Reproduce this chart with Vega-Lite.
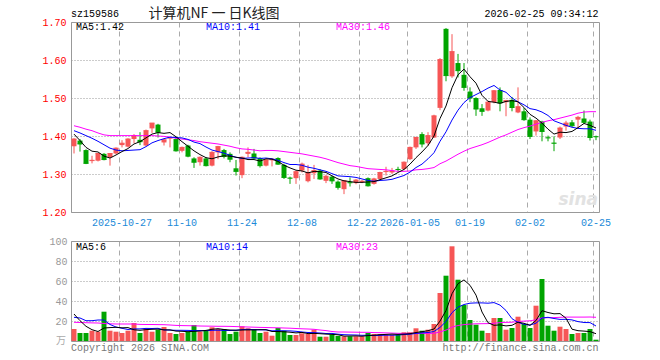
{
"$schema": "https://vega.github.io/schema/vega-lite/v6.json",
"background": "white",
"padding": {"left": 41, "top": 6, "right": 0, "bottom": 0},
"datasets": {"k": [
{"d":"2025-10-15","o":1.373,"h":1.394,"l":1.354,"c":1.392,"v":12,"m5":1.405,"m10":1.414,"m30":1.427,"v5":27,"v10":23.7,"v30":18.7},
{"d":"2025-10-16","o":1.388,"h":1.392,"l":1.359,"c":1.379,"v":8,"m5":1.388,"m10":1.408,"m30":1.423,"v5":20.3,"v10":23,"v30":18.5},
{"d":"2025-10-17","o":1.363,"h":1.365,"l":1.326,"c":1.328,"v":8,"m5":1.370,"m10":1.401,"m30":1.418,"v5":14.7,"v10":20.3,"v30":18.3},
{"d":"2025-10-20","o":1.334,"h":1.348,"l":1.328,"c":1.336,"v":10.3,"m5":1.360,"m10":1.394,"m30":1.414,"v5":11.3,"v10":20.3,"v30":18.1},
{"d":"2025-10-21","o":1.335,"h":1.355,"l":1.333,"c":1.354,"v":9.3,"m5":1.358,"m10":1.386,"m30":1.408,"v5":9.5,"v10":21,"v30":18.0},
{"d":"2025-10-22","o":1.353,"h":1.355,"l":1.336,"c":1.338,"v":29.3,"m5":1.347,"m10":1.377,"m30":1.403,"v5":13.0,"v10":21,"v30":17.5},
{"d":"2025-10-23","o":1.344,"h":1.355,"l":1.322,"c":1.354,"v":10.3,"m5":1.342,"m10":1.368,"m30":1.401,"v5":13.4,"v10":16.5,"v30":17.2},
{"d":"2025-10-24","o":1.354,"h":1.370,"l":1.352,"c":1.368,"v":9.3,"m5":1.350,"m10":1.363,"m30":1.401,"v5":13.7,"v10":14,"v30":17.0},
{"d":"2025-10-27","o":1.376,"h":1.389,"l":1.370,"c":1.381,"v":8,"m5":1.359,"m10":1.361,"m30":1.401,"v5":13.2,"v10":12.7,"v30":17.0},
{"d":"2025-10-28","o":1.372,"h":1.394,"l":1.370,"c":1.392,"v":10.3,"m5":1.367,"m10":1.362,"m30":1.401,"v5":13.4,"v10":11.5,"v30":17.0},
{"d":"2025-10-29","o":1.392,"h":1.405,"l":1.381,"c":1.401,"v":18,"m5":1.379,"m10":1.363,"m30":1.401,"v5":11.2,"v10":12.1,"v30":17.0},
{"d":"2025-10-30","o":1.390,"h":1.410,"l":1.376,"c":1.385,"v":8,"m5":1.385,"m10":1.364,"m30":1.401,"v5":10.7,"v10":12.1,"v30":16.6},
{"d":"2025-10-31","o":1.375,"h":1.417,"l":1.373,"c":1.414,"v":12.7,"m5":1.395,"m10":1.372,"m30":1.401,"v5":11.4,"v10":12.6,"v30":16.5},
{"d":"2025-11-03","o":1.420,"h":1.434,"l":1.408,"c":1.434,"v":9.3,"m5":1.405,"m10":1.382,"m30":1.401,"v5":11.7,"v10":12.5,"v30":16.5},
{"d":"2025-11-04","o":1.430,"h":1.432,"l":1.396,"c":1.410,"v":11.3,"m5":1.409,"m10":1.388,"m30":1.400,"v5":11.9,"v10":12.7,"v30":16.4},
{"d":"2025-11-05","o":1.383,"h":1.392,"l":1.375,"c":1.390,"v":14,"m5":1.407,"m10":1.393,"m30":1.399,"v5":11.1,"v10":11.1,"v30":16.3},
{"d":"2025-11-06","o":1.393,"h":1.397,"l":1.370,"c":1.396,"v":8,"m5":1.409,"m10":1.397,"m30":1.397,"v5":11.1,"v10":10.9,"v30":16.0},
{"d":"2025-11-07","o":1.392,"h":1.396,"l":1.359,"c":1.361,"v":7,"m5":1.398,"m10":1.396,"m30":1.394,"v5":9.9,"v10":10.7,"v30":15.6},
{"d":"2025-11-10","o":1.361,"h":1.372,"l":1.357,"c":1.370,"v":8,"m5":1.385,"m10":1.395,"m30":1.392,"v5":9.7,"v10":10.7,"v30":15.4},
{"d":"2025-11-11","o":1.375,"h":1.377,"l":1.344,"c":1.347,"v":9.3,"m5":1.373,"m10":1.391,"m30":1.390,"v5":9.3,"v10":10.6,"v30":15.3},
{"d":"2025-11-12","o":1.341,"h":1.344,"l":1.316,"c":1.331,"v":16,"m5":1.361,"m10":1.384,"m30":1.388,"v5":9.7,"v10":10.4,"v30":15.2},
{"d":"2025-11-13","o":1.331,"h":1.346,"l":1.322,"c":1.344,"v":9.3,"m5":1.351,"m10":1.380,"m30":1.385,"v5":9.9,"v10":10.5,"v30":15.0},
{"d":"2025-11-14","o":1.341,"h":1.344,"l":1.320,"c":1.322,"v":10.3,"m5":1.343,"m10":1.371,"m30":1.383,"v5":10.6,"v10":10.3,"v30":14.9},
{"d":"2025-11-17","o":1.322,"h":1.360,"l":1.320,"c":1.357,"v":13.7,"m5":1.340,"m10":1.363,"m30":1.381,"v5":11.7,"v10":10.7,"v30":14.8},
{"d":"2025-11-18","o":1.357,"h":1.374,"l":1.339,"c":1.372,"v":12,"m5":1.345,"m10":1.359,"m30":1.379,"v5":12.3,"v10":10.8,"v30":14.7},
{"d":"2025-11-19","o":1.363,"h":1.366,"l":1.341,"c":1.346,"v":12,"m5":1.348,"m10":1.355,"m30":1.376,"v5":11.5,"v10":10.6,"v30":14.7},
{"d":"2025-11-20","o":1.353,"h":1.357,"l":1.331,"c":1.339,"v":7,"m5":1.347,"m10":1.349,"m30":1.373,"v5":11.0,"v10":10.5,"v30":14.6},
{"d":"2025-11-21","o":1.315,"h":1.337,"l":1.296,"c":1.307,"v":9.3,"m5":1.344,"m10":1.344,"m30":1.369,"v5":10.8,"v10":10.7,"v30":14.4},
{"d":"2025-11-24","o":1.297,"h":1.346,"l":1.289,"c":1.344,"v":14.7,"m5":1.342,"m10":1.341,"m30":1.366,"v5":11.0,"v10":11.4,"v30":14.2},
{"d":"2025-11-25","o":1.353,"h":1.370,"l":1.344,"c":1.357,"v":12.7,"m5":1.338,"m10":1.342,"m30":1.365,"v5":11.1,"v10":11.7,"v30":14.0},
{"d":"2025-11-26","o":1.354,"h":1.366,"l":1.339,"c":1.342,"v":12,"m5":1.338,"m10":1.343,"m30":1.363,"v5":11.1,"v10":11.3,"v30":13.8},
{"d":"2025-11-27","o":1.342,"h":1.344,"l":1.317,"c":1.322,"v":8,"m5":1.334,"m10":1.341,"m30":1.361,"v5":11.3,"v10":11.2,"v30":13.6},
{"d":"2025-11-28","o":1.322,"h":1.339,"l":1.320,"c":1.337,"v":9.3,"m5":1.340,"m10":1.342,"m30":1.362,"v5":11.3,"v10":11.1,"v30":13.5},
{"d":"2025-12-01","o":1.336,"h":1.342,"l":1.320,"c":1.339,"v":5.3,"m5":1.339,"m10":1.340,"m30":1.362,"v5":9.5,"v10":10.2,"v30":13.3},
{"d":"2025-12-02","o":1.342,"h":1.344,"l":1.324,"c":1.326,"v":13,"m5":1.333,"m10":1.336,"m30":1.361,"v5":9.5,"v10":10.3,"v30":13.2},
{"d":"2025-12-03","o":1.324,"h":1.327,"l":1.287,"c":1.291,"v":10.3,"m5":1.323,"m10":1.330,"m30":1.359,"v5":9.2,"v10":10.2,"v30":13.0},
{"d":"2025-12-04","o":1.290,"h":1.293,"l":1.274,"c":1.289,"v":6,"m5":1.316,"m10":1.325,"m30":1.357,"v5":8.8,"v10":10.1,"v30":12.8},
{"d":"2025-12-05","o":1.289,"h":1.309,"l":1.274,"c":1.306,"v":6,"m5":1.310,"m10":1.325,"m30":1.355,"v5":8.1,"v10":9.7,"v30":12.5},
{"d":"2025-12-08","o":1.309,"h":1.330,"l":1.304,"c":1.326,"v":7.7,"m5":1.308,"m10":1.323,"m30":1.353,"v5":8.6,"v10":9.0,"v30":12.2},
{"d":"2025-12-09","o":1.281,"h":1.324,"l":1.278,"c":1.304,"v":7,"m5":1.303,"m10":1.318,"m30":1.350,"v5":7.4,"v10":8.5,"v30":12.0},
{"d":"2025-12-10","o":1.302,"h":1.324,"l":1.287,"c":1.309,"v":11.3,"m5":1.307,"m10":1.315,"m30":1.347,"v5":7.6,"v10":8.4,"v30":11.7},
{"d":"2025-12-11","o":1.309,"h":1.313,"l":1.285,"c":1.287,"v":4.3,"m5":1.306,"m10":1.311,"m30":1.344,"v5":7.3,"v10":8.0,"v30":11.0},
{"d":"2025-12-12","o":1.282,"h":1.298,"l":1.276,"c":1.294,"v":4.3,"m5":1.304,"m10":1.307,"m30":1.340,"v5":6.9,"v10":7.5,"v30":10.4},
{"d":"2025-12-15","o":1.293,"h":1.296,"l":1.274,"c":1.282,"v":6.3,"m5":1.295,"m10":1.301,"m30":1.335,"v5":6.6,"v10":7.6,"v30":9.5},
{"d":"2025-12-16","o":1.280,"h":1.283,"l":1.259,"c":1.265,"v":5,"m5":1.287,"m10":1.295,"m30":1.330,"v5":6.2,"v10":6.8,"v30":9.0},
{"d":"2025-12-17","o":1.260,"h":1.284,"l":1.247,"c":1.282,"v":4.7,"m5":1.282,"m10":1.294,"m30":1.326,"v5":4.9,"v10":6.3,"v30":9.0},
{"d":"2025-12-18","o":1.278,"h":1.291,"l":1.267,"c":1.277,"v":4.7,"m5":1.280,"m10":1.293,"m30":1.322,"v5":5.0,"v10":6.1,"v30":8.9},
{"d":"2025-12-19","o":1.276,"h":1.287,"l":1.273,"c":1.284,"v":4.7,"m5":1.278,"m10":1.291,"m30":1.320,"v5":5.1,"v10":6.0,"v30":8.8},
{"d":"2025-12-22","o":1.279,"h":1.284,"l":1.276,"c":1.281,"v":4.7,"m5":1.278,"m10":1.287,"m30":1.317,"v5":4.8,"v10":5.7,"v30":8.7},
{"d":"2025-12-23","o":1.289,"h":1.291,"l":1.267,"c":1.269,"v":8,"m5":1.279,"m10":1.283,"m30":1.314,"v5":5.4,"v10":5.8,"v30":8.7},
{"d":"2025-12-24","o":1.274,"h":1.290,"l":1.272,"c":1.287,"v":7,"m5":1.280,"m10":1.281,"m30":1.313,"v5":5.8,"v10":5.4,"v30":8.4},
{"d":"2025-12-25","o":1.287,"h":1.306,"l":1.285,"c":1.304,"v":7,"m5":1.285,"m10":1.283,"m30":1.312,"v5":6.3,"v10":5.6,"v30":8.3},
{"d":"2025-12-26","o":1.305,"h":1.319,"l":1.296,"c":1.307,"v":6.3,"m5":1.290,"m10":1.284,"m30":1.311,"v5":6.6,"v10":5.8,"v30":8.1},
{"d":"2025-12-29","o":1.304,"h":1.316,"l":1.300,"c":1.308,"v":6.3,"m5":1.295,"m10":1.286,"m30":1.309,"v5":6.9,"v10":5.8,"v30":7.9},
{"d":"2025-12-30","o":1.313,"h":1.319,"l":1.307,"c":1.312,"v":6.3,"m5":1.304,"m10":1.291,"m30":1.307,"v5":6.6,"v10":6.0,"v30":7.7},
{"d":"2025-12-31","o":1.313,"h":1.333,"l":1.310,"c":1.331,"v":8.7,"m5":1.312,"m10":1.296,"m30":1.307,"v5":6.9,"v10":6.4,"v30":7.6},
{"d":"2026-01-05","o":1.339,"h":1.372,"l":1.337,"c":1.370,"v":8.7,"m5":1.326,"m10":1.305,"m30":1.308,"v5":7.3,"v10":6.8,"v30":7.7},
{"d":"2026-01-06","o":1.370,"h":1.398,"l":1.366,"c":1.396,"v":12.7,"m5":1.343,"m10":1.317,"m30":1.311,"v5":8.5,"v10":7.6,"v30":7.8},
{"d":"2026-01-07","o":1.405,"h":1.410,"l":1.370,"c":1.379,"v":10.3,"m5":1.358,"m10":1.326,"m30":1.312,"v5":9.3,"v10":8.1,"v30":7.6},
{"d":"2026-01-08","o":1.381,"h":1.410,"l":1.374,"c":1.401,"v":11.3,"m5":1.375,"m10":1.340,"m30":1.314,"v5":10.3,"v10":8.5,"v30":7.6},
{"d":"2026-01-09","o":1.396,"h":1.456,"l":1.395,"c":1.453,"v":17,"m5":1.400,"m10":1.356,"m30":1.317,"v5":12.0,"v10":9.5,"v30":7.7},
{"d":"2026-01-12","o":1.474,"h":1.605,"l":1.468,"c":1.601,"v":48,"m5":1.446,"m10":1.386,"m30":1.327,"v5":19.9,"v10":13.6,"v30":9.1},
{"d":"2026-01-13","o":1.682,"h":1.684,"l":1.544,"c":1.559,"v":65.3,"m5":1.479,"m10":1.411,"m30":1.334,"v5":30.4,"v10":19.5,"v30":10.9},
{"d":"2026-01-14","o":1.557,"h":1.668,"l":1.553,"c":1.622,"v":94.7,"m5":1.527,"m10":1.442,"m30":1.343,"v5":47.3,"v10":28.3,"v30":13.9},
{"d":"2026-01-15","o":1.592,"h":1.616,"l":1.554,"c":1.572,"v":61.3,"m5":1.561,"m10":1.468,"m30":1.352,"v5":57.3,"v10":33.8,"v30":15.5},
{"d":"2026-01-16","o":1.561,"h":1.592,"l":1.519,"c":1.528,"v":36,"m5":1.576,"m10":1.488,"m30":1.360,"v5":61.1,"v10":36.5,"v30":16.4},
{"d":"2026-01-19","o":1.517,"h":1.528,"l":1.489,"c":1.500,"v":21,"m5":1.556,"m10":1.501,"m30":1.367,"v5":55.7,"v10":37.8,"v30":16.9},
{"d":"2026-01-20","o":1.500,"h":1.502,"l":1.453,"c":1.471,"v":16.3,"m5":1.539,"m10":1.509,"m30":1.372,"v5":45.9,"v10":38.1,"v30":17.2},
{"d":"2026-01-21","o":1.473,"h":1.484,"l":1.453,"c":1.465,"v":10.3,"m5":1.507,"m10":1.517,"m30":1.377,"v5":29.0,"v10":38.1,"v30":17.3},
{"d":"2026-01-22","o":1.467,"h":1.493,"l":1.465,"c":1.489,"v":8,"m5":1.491,"m10":1.526,"m30":1.383,"v5":18.3,"v10":37.8,"v30":17.4},
{"d":"2026-01-23","o":1.489,"h":1.521,"l":1.486,"c":1.519,"v":23,"m5":1.489,"m10":1.533,"m30":1.390,"v5":15.7,"v10":38.4,"v30":17.7},
{"d":"2026-01-26","o":1.521,"h":1.528,"l":1.465,"c":1.487,"v":23,"m5":1.486,"m10":1.521,"m30":1.397,"v5":16.1,"v10":35.9,"v30":18.4},
{"d":"2026-01-27","o":1.489,"h":1.495,"l":1.452,"c":1.493,"v":11.3,"m5":1.491,"m10":1.515,"m30":1.403,"v5":15.1,"v10":30.5,"v30":18.6},
{"d":"2026-01-28","o":1.495,"h":1.503,"l":1.465,"c":1.475,"v":13,"m5":1.493,"m10":1.500,"m30":1.410,"v5":15.7,"v10":22.3,"v30":18.8},
{"d":"2026-01-29","o":1.462,"h":1.528,"l":1.460,"c":1.477,"v":24.3,"m5":1.490,"m10":1.490,"m30":1.417,"v5":18.9,"v10":18.6,"v30":19.5},
{"d":"2026-01-30","o":1.465,"h":1.474,"l":1.440,"c":1.443,"v":17,"m5":1.475,"m10":1.482,"m30":1.422,"v5":17.7,"v10":16.7,"v30":19.9},
{"d":"2026-02-02","o":1.443,"h":1.449,"l":1.392,"c":1.399,"v":13,"m5":1.457,"m10":1.472,"m30":1.426,"v5":15.7,"v10":15.9,"v30":20.2},
{"d":"2026-02-03","o":1.412,"h":1.442,"l":1.401,"c":1.440,"v":35.3,"m5":1.447,"m10":1.469,"m30":1.431,"v5":20.5,"v10":17.8,"v30":21.2},
{"d":"2026-02-04","o":1.438,"h":1.440,"l":1.386,"c":1.412,"v":62,"m5":1.434,"m10":1.463,"m30":1.436,"v5":30.3,"v10":23.0,"v30":23.1},
{"d":"2026-02-05","o":1.396,"h":1.401,"l":1.386,"c":1.395,"v":15.3,"m5":1.418,"m10":1.454,"m30":1.440,"v5":28.5,"v10":23.7,"v30":23.3},
{"d":"2026-02-06","o":1.382,"h":1.399,"l":1.360,"c":1.381,"v":10.3,"m5":1.405,"m10":1.440,"m30":1.443,"v5":27.2,"v10":22.5,"v30":23.4},
{"d":"2026-02-09","o":1.396,"h":1.425,"l":1.392,"c":1.421,"v":14.3,"m5":1.410,"m10":1.434,"m30":1.447,"v5":27.4,"v10":21.6,"v30":23.7},
{"d":"2026-02-10","o":1.425,"h":1.440,"l":1.414,"c":1.434,"v":12,"m5":1.409,"m10":1.428,"m30":1.451,"v5":22.8,"v10":21.7,"v30":23.9},
{"d":"2026-02-11","o":1.436,"h":1.442,"l":1.423,"c":1.427,"v":7,"m5":1.412,"m10":1.423,"m30":1.455,"v5":11.8,"v10":21.1,"v30":23.9},
{"d":"2026-02-12","o":1.443,"h":1.453,"l":1.421,"c":1.449,"v":8,"m5":1.422,"m10":1.420,"m30":1.460,"v5":10.3,"v10":19.4,"v30":23.9},
{"d":"2026-02-13","o":1.446,"h":1.467,"l":1.432,"c":1.436,"v":8,"m5":1.433,"m10":1.419,"m30":1.463,"v5":9.9,"v10":18.5,"v30":23.9},
{"d":"2026-02-24","o":1.438,"h":1.443,"l":1.388,"c":1.396,"v":12,"m5":1.428,"m10":1.419,"m30":1.464,"v5":9.4,"v10":18.4,"v30":24.0},
{"d":"2026-02-25","o":1.399,"h":1.401,"l":1.389,"c":1.398,"v":1.3,"m5":1.421,"m10":1.415,"m30":1.464,"v5":7.3,"v10":15.0,"v30":23.7}
]},
"data": {"name": "k"},
"config": {
  "view": {"stroke": "#999999", "strokeWidth": 1},
  "axis": {"labelFont": "Liberation Mono", "labelFontSize": 10, "title": null, "labelOverlap": false}
},
"spacing": 29,
"bounds": "flush",
"vconcat": [
{
  "width": 528, "height": 190,
  "encoding": {
    "x": {"field": "d", "type": "ordinal", "sort": "ascending",
      "scale": {"paddingInner": 0.17, "paddingOuter": 0.085},
      "axis": {"values": ["2025-10-27","2025-11-10","2025-11-24","2025-12-08","2025-12-22","2026-01-05","2026-01-19","2026-02-02","2026-02-25"],
        "labelExpr": "(datum.value == '2025-10-27' || datum.value == '2026-01-05') ? datum.value : slice(datum.value, 5)",
        "bandPosition": 0, "labelAngle": 0, "labelOverlap": false, "labelColor": "#1a8ad8", "labelPadding": 5,
        "ticks": false, "domain": false, "grid": true, "gridColor": "#aaaaaa", "gridDash": [5, 4], "gridWidth": 1}}
  },
  "layer": [
    {"data": {"values": [{}]},
     "mark": {"type": "text", "align": "right", "baseline": "middle", "dx": 2, "dy": -12, "font": "DejaVu Sans", "fontSize": 17, "fontWeight": "bold", "fontStyle": "italic", "color": "#e2e2e2"},
     "encoding": {"x": {"datum": "2026-02-25"}, "y": {"datum": 1.2}, "text": {"value": "sina"}}},
    {"mark": {"type": "rule", "strokeWidth": 1},
     "encoding": {
       "y": {"field": "l", "type": "quantitative",
         "scale": {"domain": [1.2, 1.7], "nice": false, "zero": false},
         "axis": {"values": [1.2, 1.3, 1.4, 1.5, 1.6, 1.7], "tickCount": 20, "format": ".2f", "labelColor": "#ff0000", "labelPadding": 5, "labelOverlap": false,
           "ticks": false, "domain": false, "grid": true, "gridColor": "#999999", "gridDash": [1, 2], "gridWidth": 1}},
       "y2": {"field": "h"},
       "color": {"condition": {"test": "datum.c >= datum.o", "value": "#f65656"}, "value": "#00a400"}}},
    {"mark": {"type": "bar", "opacity": 1},
     "encoding": {
       "y": {"field": "o", "type": "quantitative"},
       "y2": {"field": "c"},
       "color": {"condition": {"test": "datum.c >= datum.o", "value": "#f65656"}, "value": "#00a400"}}},
    {"mark": {"type": "tick", "orient": "horizontal", "thickness": 1, "size": 5, "opacity": 1},
     "encoding": {
       "y": {"field": "c", "type": "quantitative"},
       "color": {"condition": {"test": "datum.c >= datum.o", "value": "#f65656"}, "value": "#00a400"}}},
    {"mark": {"type": "line", "color": "#ff00ff", "strokeWidth": 1},
     "encoding": {"y": {"field": "m30", "type": "quantitative"}}},
    {"mark": {"type": "line", "color": "#0000ff", "strokeWidth": 1},
     "encoding": {"y": {"field": "m10", "type": "quantitative"}}},
    {"mark": {"type": "line", "color": "#000000", "strokeWidth": 1},
     "encoding": {"y": {"field": "m5", "type": "quantitative"}}},
    {"data": {"values": [{}]},
     "mark": {"type": "text", "align": "left", "baseline": "middle", "dx": 2, "dy": 5, "font": "Liberation Mono", "fontSize": 10, "color": "#000000"},
     "encoding": {"x": {"datum": "2025-10-15"}, "y": {"datum": 1.7}, "text": {"value": "MA5:1.42"}}},
    {"data": {"values": [{}]},
     "mark": {"type": "text", "align": "left", "baseline": "middle", "dx": 132, "dy": 5, "font": "Liberation Mono", "fontSize": 10, "color": "#0000ff"},
     "encoding": {"x": {"datum": "2025-10-15"}, "y": {"datum": 1.7}, "text": {"value": "MA10:1.41"}}},
    {"data": {"values": [{}]},
     "mark": {"type": "text", "align": "left", "baseline": "middle", "dx": 262, "dy": 5, "font": "Liberation Mono", "fontSize": 10, "color": "#ff00ff"},
     "encoding": {"x": {"datum": "2025-10-15"}, "y": {"datum": 1.7}, "text": {"value": "MA30:1.46"}}},
    {"data": {"values": [{}]},
     "mark": {"type": "text", "align": "left", "baseline": "middle", "dx": -3, "dy": -8, "font": "Liberation Mono", "fontSize": 10, "color": "#000000"},
     "encoding": {"x": {"datum": "2025-10-15"}, "y": {"datum": 1.7}, "text": {"value": "sz159586"}}},
    {"data": {"values": [{}]},
     "mark": {"type": "text", "align": "center", "baseline": "middle", "dx": 140, "dy": -8, "font": "Noto Sans CJK SC", "fontSize": 14, "color": "#222222"},
     "encoding": {"x": {"datum": "2025-10-15"}, "y": {"datum": 1.7}, "text": {"value": "计算机NF 一 日K线图"}}},
    {"data": {"values": [{}]},
     "mark": {"type": "text", "align": "right", "baseline": "middle", "dx": 2.5, "dy": -8, "font": "Liberation Mono", "fontSize": 10, "color": "#000000"},
     "encoding": {"x": {"datum": "2026-02-25"}, "y": {"datum": 1.7}, "text": {"value": "2026-02-25 09:34:12"}}}
  ]
},
{
  "width": 528, "height": 100,
  "encoding": {
    "x": {"field": "d", "type": "ordinal", "sort": "ascending",
      "scale": {"paddingInner": 0.17, "paddingOuter": 0.085},
      "axis": {"values": ["2025-10-27","2025-11-10","2025-11-24","2025-12-08","2025-12-22","2026-01-05","2026-01-19","2026-02-02","2026-02-25"],
        "bandPosition": 0, "labels": false, "ticks": false, "domain": false,
        "grid": true, "gridColor": "#aaaaaa", "gridDash": [5, 4], "gridWidth": 1}}
  },
  "layer": [
    {"mark": {"type": "bar", "opacity": 1},
     "encoding": {
       "y": {"field": "v", "type": "quantitative",
         "scale": {"domain": [0, 100], "nice": false},
         "axis": {"values": [20, 40, 60, 80, 100], "tickCount": 20, "labelColor": "#999999", "labelPadding": 4, "labelOverlap": false,
           "ticks": false, "domain": false, "grid": true, "gridColor": "#999999", "gridDash": [1, 2], "gridWidth": 1}},
       "color": {"condition": {"test": "datum.c >= datum.o", "value": "#f65656"}, "value": "#00a400"}}},
    {"mark": {"type": "line", "color": "#ff00ff", "strokeWidth": 1},
     "encoding": {"y": {"field": "v30", "type": "quantitative"}}},
    {"mark": {"type": "line", "color": "#0000ff", "strokeWidth": 1},
     "encoding": {"y": {"field": "v10", "type": "quantitative"}}},
    {"mark": {"type": "line", "color": "#000000", "strokeWidth": 1},
     "encoding": {"y": {"field": "v5", "type": "quantitative"}}},
    {"data": {"values": [{}]},
     "mark": {"type": "text", "align": "left", "baseline": "middle", "dx": 2, "dy": 6, "font": "Liberation Mono", "fontSize": 10, "color": "#000000"},
     "encoding": {"x": {"datum": "2025-10-15"}, "y": {"datum": 100}, "text": {"value": "MA5:6"}}},
    {"data": {"values": [{}]},
     "mark": {"type": "text", "align": "left", "baseline": "middle", "dx": 132, "dy": 6, "font": "Liberation Mono", "fontSize": 10, "color": "#0000ff"},
     "encoding": {"x": {"datum": "2025-10-15"}, "y": {"datum": 100}, "text": {"value": "MA10:14"}}},
    {"data": {"values": [{}]},
     "mark": {"type": "text", "align": "left", "baseline": "middle", "dx": 262, "dy": 6, "font": "Liberation Mono", "fontSize": 10, "color": "#ff00ff"},
     "encoding": {"x": {"datum": "2025-10-15"}, "y": {"datum": 100}, "text": {"value": "MA30:23"}}},
    {"data": {"values": [{}]},
     "mark": {"type": "text", "align": "right", "baseline": "middle", "dx": -8, "dy": 0, "font": "Noto Sans CJK SC", "fontSize": 10, "color": "#aaaaaa"},
     "encoding": {"x": {"datum": "2025-10-15"}, "y": {"datum": 0}, "text": {"value": "万"}}},
    {"data": {"values": [{}]},
     "mark": {"type": "text", "align": "left", "baseline": "middle", "dx": -3, "dy": 7, "font": "Liberation Mono", "fontSize": 10, "color": "#777777"},
     "encoding": {"x": {"datum": "2025-10-15"}, "y": {"datum": 0}, "text": {"value": "Copyright 2026 SINA.COM"}}},
    {"data": {"values": [{}]},
     "mark": {"type": "text", "align": "right", "baseline": "middle", "dx": 2.5, "dy": 7, "font": "Liberation Mono", "fontSize": 10, "color": "#777777"},
     "encoding": {"x": {"datum": "2026-02-25"}, "y": {"datum": 0}, "text": {"value": "http://finance.sina.com.cn"}}}
  ]
}
]
}
